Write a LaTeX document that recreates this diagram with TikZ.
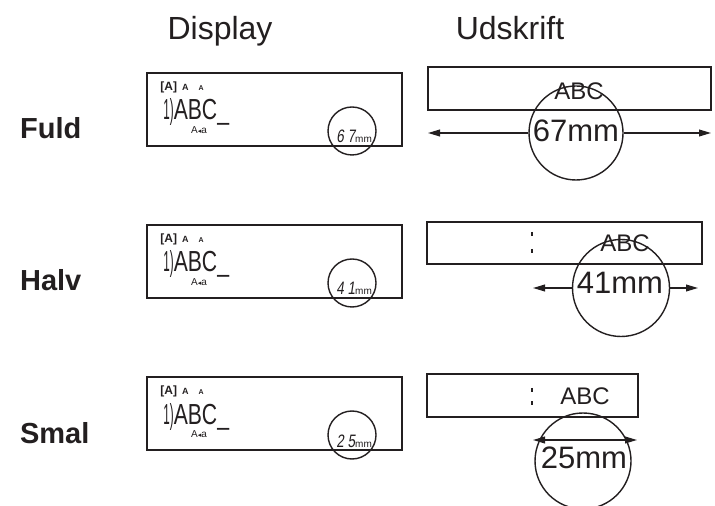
\documentclass[tikz,border=0pt]{standalone}
\usepackage{fontspec}
\setmainfont{Liberation Sans}
\newfontfamily\lcdfont[FakeStretch=0.73]{Liberation Sans}
\newfontfamily\lcdslant[FakeStretch=0.75,FakeSlant=0.15]{Liberation Sans}
\newfontfamily\symfont{DejaVu Sans}
\usepackage{graphicx}
\usetikzlibrary{arrows.meta,positioning,calc}
\definecolor{inkDark}{HTML}{231F20}
\tikzset{
  arr/.style={-{Triangle[length=6pt,width=3.4pt]}, line width=0.65pt, draw=inkDark},
  dblarr/.style={{Triangle[length=6pt,width=3.4pt]}-{Triangle[length=6pt,width=3.4pt]}, line width=0.65pt, draw=inkDark},
  lcdbox/.style={draw=inkDark, line width=1pt},
  tape/.style={draw=inkDark, line width=1pt},
  ring/.style={circle, draw=inkDark, line width=0.7pt, inner sep=0pt, minimum size=#1},
  cutmark/.style={draw=inkDark, line width=0.6pt},
  head/.style={anchor=base, font=\fontsize{16}{19}\selectfont, text=inkDark},
  rowname/.style={anchor=base west, font=\fontsize{14.5}{17}\selectfont\bfseries, text=inkDark},
  prt/.style={font=\fontsize{12}{14}\selectfont, text=inkDark, inner sep=0pt},
  len/.style={font=\fontsize{15.5}{18}\selectfont, text=inkDark, inner sep=0pt}
}

\begin{document}
\begin{tikzpicture}[x=0.5pt,y=-0.5pt]
  \useasboundingbox (0,0) rectangle (715,506);
  \node[head] (hdisp) at (220,40) {Display};
  \node[head] (hprt) at (510,40) {Udskrift};
  % display side, one row per mode
  \foreach \row/\lbl/\y/\digs in {fuld/Fuld/73/{6 7},halv/Halv/225/{4 1},smal/Smal/377/{2 5}}{
    \node[rowname] (\row-name) at (13,\y+66) {\lbl};
    \draw[lcdbox] (147,\y) rectangle (402,\y+73);
    \node[anchor=west, inner sep=0pt, text=inkDark, font=\fontsize{6}{7}\selectfont\bfseries] (\row-top) at (160,\y+14)
      {[A]\hspace{2.5pt}{\fontsize{4.5}{5}\selectfont A}\hspace{5pt}{\fontsize{3.5}{4}\selectfont A}};
    \node[anchor=base west, inner sep=0pt, text=inkDark, font=\lcdfont\fontsize{14.5}{16}\selectfont] (\row-line) at (163,\y+47)
      {\scalebox{0.55}[1]{1)}ABC\_};
    \node[inner sep=0pt, text=inkDark, font=\fontsize{5}{6}\selectfont] (\row-case) at (199,\y+57)
      {A{\symfont\fontsize{3.5}{4}\selectfont ◂}a};
    \node[anchor=base west, inner sep=0pt, text=inkDark, font=\lcdslant\fontsize{9}{10}\selectfont] (\row-len) at (336,\y+70)
      {\digs{\rmfamily\fontsize{5}{6}\selectfont mm}};
    \node[ring=24pt] (\row-dring) at (352,\y+58) {};
  }
  % print side: full width
  \draw[tape] (428,67) rectangle (711,110);
  \node[prt] (fuld-abc) at (579,91) {ABC};
  \node[ring=47pt] (fuld-ring) at (576,133) {};
  \node[len] (fuld-mm) at (576,130.5) {67mm};
  \coordinate (fuld-l) at (428,133);
  \coordinate (fuld-r) at (711,133);
  \draw[arr] (fuld-ring) -- (fuld-l);
  \draw[arr] (fuld-ring) -- (fuld-r);
  % half
  \draw[tape] (427,222) rectangle (702,264);
  \draw[cutmark] (532,232) -- (532,236) (532,249) -- (532,253);
  \node[prt] (halv-abc) at (625,243) {ABC};
  \node[ring=48.5pt] (halv-ring) at (621,288) {};
  \node[len] (halv-mm) at (620,283) {41mm};
  \coordinate (halv-l) at (533,288);
  \coordinate (halv-r) at (698,288);
  \draw[arr] (halv-ring) -- (halv-l);
  \draw[arr] (halv-ring) -- (halv-r);
  % narrow
  \draw[tape] (427,374) rectangle (638,417);
  \draw[cutmark] (532,388) -- (532,392) (532,401) -- (532,405);
  \node[prt] (smal-abc) at (585,396) {ABC};
  \node[ring=48pt] (smal-ring) at (583,461) {};
  \node[len] (smal-mm) at (584,458) {25mm};
  \coordinate (smal-l) at (533,440);
  \coordinate (smal-r) at (637,440);
  \draw[dblarr] (smal-l) -- (smal-r);
\end{tikzpicture}
\end{document}
